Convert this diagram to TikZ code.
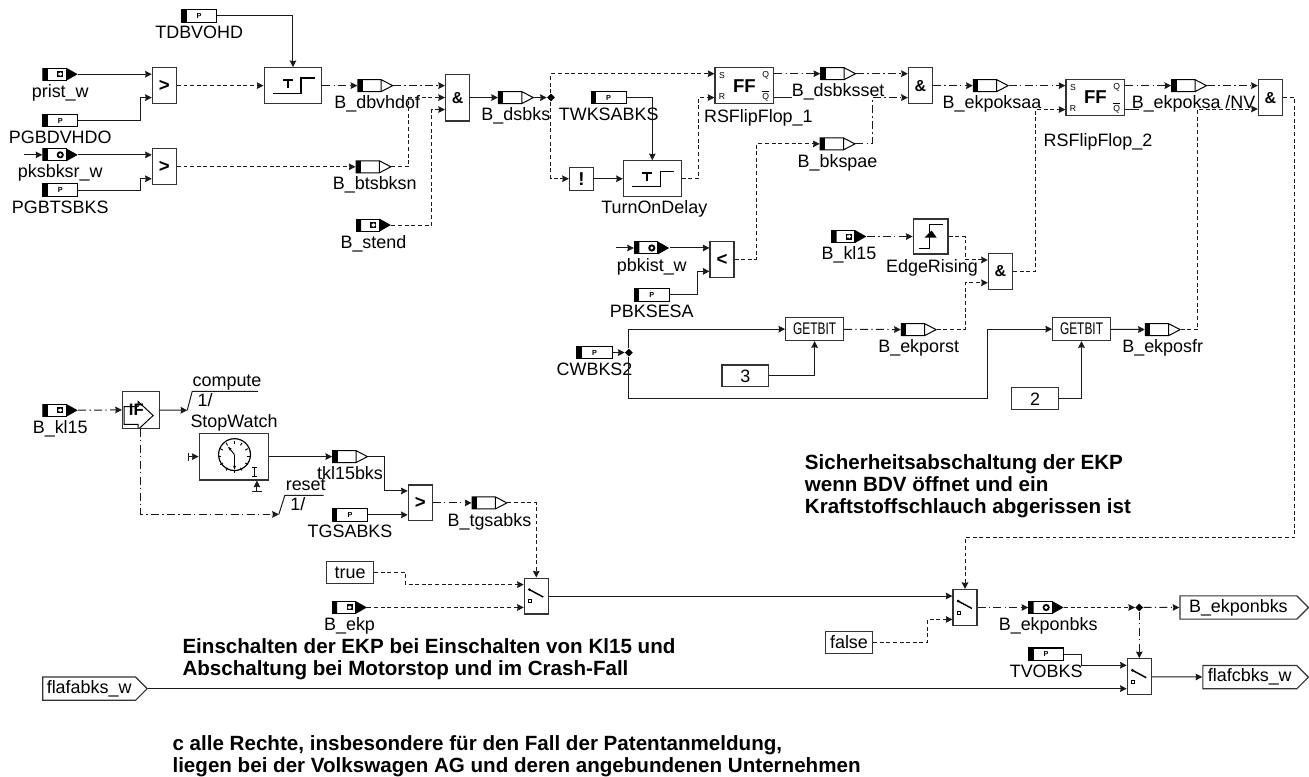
\documentclass[tikz,border=0pt]{standalone}
\usepackage{fontspec}
\usepackage{xcolor}
\usepackage{tikz}
\usetikzlibrary{arrows.meta,positioning,shapes.geometric,shapes.symbols}
\setmainfont{Liberation Sans}
\definecolor{wirecol}{HTML}{1A1A1A}
\definecolor{boxline}{HTML}{333333}

\begin{document}
\begin{tikzpicture}[
  x=0.75pt, y=-0.75pt,
  wire/.style={-{Stealth[length=5pt,width=5pt,inset=0.5pt]}, line width=0.75pt, wirecol},
  dwire/.style={wire, dash pattern=on 3pt off 2pt},
  dotw/.style={wire, dash pattern=on 6pt off 2.5pt on 1pt off 2.5pt},
  stub/.style={line width=0.75pt, wirecol},
  lbl/.style={inner sep=0pt, font=\fontsize{13.5}{13.5}\selectfont, text height=9.7pt, text depth=2.9pt},
  note/.style={inner sep=0pt, anchor=north west, align=left, font=\fontsize{15.5}{16.5}\selectfont\bfseries},
  blk/.style={draw=boxline, line width=0.9pt, fill=white, inner sep=0pt, minimum width=18pt, minimum height=27pt, font=\fontsize{14}{14}\selectfont\bfseries},
  andbox/.style={blk, font=\fontsize{12}{12}\selectfont\bfseries},
  andlong/.style={andbox, minimum height=35.25pt},
  constbox/.style={draw=boxline, line width=0.9pt, fill=white, inner sep=0pt, minimum width=35.25pt, minimum height=16.5pt, font=\fontsize{13.5}{13.5}\selectfont},
  bitbox/.style={draw=boxline, line width=0.9pt, fill=white, inner sep=0pt, minimum width=43.5pt, minimum height=17.25pt, font=\fontsize{11.5}{11.5}\selectfont},
  ffbox/.style={draw=boxline, line width=0.9pt, fill=white, inner sep=0pt, minimum width=44.25pt, minimum height=27pt, font=\fontsize{14}{14}\selectfont\bfseries},
  portlbl/.style={inner sep=0pt, font=\fontsize{6.5}{6.5}\selectfont},
  junc/.style={diamond, fill=black, inner sep=0pt, minimum size=6pt},
  portbox/.style={signal, signal to=east, signal pointer angle=90, draw=boxline, line width=0.9pt, fill=white, inner sep=0pt, minimum height=17.5pt, font=\fontsize{13.5}{13.5}\selectfont},
  tagbase/.style={inner sep=0pt, outer sep=0pt, minimum width=27pt, minimum height=10.5pt, fill=white},
  parmtag/.style={draw=black, line width=0.8pt, fill=white, inner sep=0pt, outer sep=0pt, minimum width=26.5pt, minimum height=9.5pt, font=\fontsize{5.5}{5.5}\selectfont\bfseries, path picture={
    \fill[black] (path picture bounding box.north west) -- ([xshift=3.75pt]path picture bounding box.north west) -- ([xshift=3.75pt]path picture bounding box.south west) -- (path picture bounding box.south west) -- cycle;}},
  sigout/.style={tagbase, path picture={
    \begin{scope}[shift={(path picture bounding box.center)}]
      \draw[black, line width=0.75pt] (-17.5,-6) -- (6,-6) -- (17.5,0) -- (6,6) -- (-17.5,6) -- cycle (6,-6) -- (6,6);
      \fill[black] (-17.5,-6) -- (-12.5,-6) -- (-12.5,6) -- (-17.5,6) -- cycle;
    \end{scope}}},
  sigsq/.style={tagbase, path picture={
    \begin{scope}[shift={(path picture bounding box.center)}]
      \draw[black, line width=0.75pt] (-17.5,-6) -- (6,-6) -- (6,6) -- (-17.5,6) -- cycle;
      \fill[black] (-17.5,-6) -- (-12.5,-6) -- (-12.5,6) -- (-17.5,6) -- cycle (6,-6.5) -- (17.5,0) -- (6,6.5) -- cycle;
      \fill[black] (-3,-3) -- (3,-3) -- (3,3) -- (-3,3) -- cycle;
      \fill[white] (-1.8,-1.2) -- (0,-1.2) -- (0,-2.2) -- (2.2,0) -- (0,2.2) -- (0,1.2) -- (-1.8,1.2) -- cycle;
    \end{scope}}},
  sigring/.style={tagbase, path picture={
    \begin{scope}[shift={(path picture bounding box.center)}]
      \draw[black, line width=0.75pt] (-17.5,-6) -- (6,-6) -- (6,6) -- (-17.5,6) -- cycle;
      \fill[black] (-17.5,-6) -- (-12.5,-6) -- (-12.5,6) -- (-17.5,6) -- cycle (6,-6.5) -- (17.5,0) -- (6,6.5) -- cycle;
      \fill[black] (0,0) circle (3.6);
      \fill[white] (0,0) circle (1.7);
    \end{scope}}},
  delaybox/.style={blk, minimum width=43.5pt, path picture={
    \begin{scope}[shift={(path picture bounding box.center)}]
      \draw[black, line width=1.1pt] (-20,8) -- (8,8) -- (8,-7.5) -- (22,-7.5);
      \draw[black, line width=1.3pt] (-10,-6) -- (0,-6) (-5,-6) -- (-5,2);
    \end{scope}}},
  switchbox/.style={blk, path picture={
    \begin{scope}[shift={(path picture bounding box.center)}]
      \draw[black, line width=1.1pt] (-7,-6.5) -- (7,1);
      \fill[black] (-7,-6.5) circle (1.5);
      \draw[black, line width=0.6pt] (-7.5,3.5) -- (-4.5,3.5) -- (-4.5,6.5) -- (-7.5,6.5) -- cycle;
    \end{scope}}},
  edgebox/.style={blk, minimum width=26.25pt, minimum height=26.25pt, path picture={
    \begin{scope}[shift={(path picture bounding box.center)}]
      \draw[black, line width=1.1pt] (-12,12) -- (-1,12) -- (-1,-12) -- (12,-12);
      \fill[black] (-6,1) -- (1,-6) -- (6,1) -- cycle;
    \end{scope}}},
  ifbox/.style={blk, minimum width=27.75pt, minimum height=27.75pt, font=\fontsize{12.5}{12.5}\selectfont\bfseries, path picture={
    \begin{scope}[shift={(path picture bounding box.center)}]
      \draw[black, line width=0.75pt] (-14,-9) -- (0,-9) -- (0,-14) -- (15,0) -- (0,14) -- (0,9) -- (-14,9) -- cycle;
    \end{scope}}},
  watchbox/.style={blk, minimum width=52.5pt, minimum height=35.25pt, path picture={
    \begin{scope}[shift={(path picture bounding box.center)}]
      \draw[black, line width=0.9pt] (0.5,-2) circle (16);
      \foreach \a in {0,30,...,330} \draw[black, line width=0.7pt, shift={(0.5,-2)}] (\a:13) -- (\a:16);
      \draw[black, line width=0.7pt, -{Stealth[length=3pt]}] (0.5,-2) -- (-6,-10);
      \draw[black, line width=0.7pt, -{Stealth[length=3pt]}] (0.5,-2) -- (0.5,13);
      \draw[black, line width=0.7pt] (20.7,11) -- (20.7,20) (18.5,11) -- (23,11) (18.5,20) -- (23,20);
    \end{scope}}}
]
  \node[parmtag] (tdbvohd) at (200,16) {P};
  \node[lbl, below=2.6pt of tdbvohd] (tdbvohdl) {TDBVOHD};

  \node[sigsq] (prist) at (60.5,74.5) {};
  \node[lbl, below=2.25pt of prist] (pristl) {prist\_w};
  \node[parmtag] (pgbdvhdo) at (60.5,121) {P};
  \node[lbl, below=2.6pt of pgbdvhdo] (pgbdvhdol) {PGBDVHDO};
  \node[sigring] (pksbksr) at (60.5,155.5) {};
  \node[lbl, below=2.25pt of pksbksr] (pksbksrl) {pksbksr\_w};
  \node[parmtag] (pgbtsbks) at (60.5,191) {P};
  \node[lbl, below=2.6pt of pgbtsbks] (pgbtsbksl) {PGBTSBKS};
  \coordinate[left=13.5pt of pksbksr] (pksin);

  \node[blk] (cmpa) at (165,86) {>};
  \node[blk] (cmpb) at (165,167.5) {>};
  \node[delaybox, right=65.25pt of cmpa] (tona) {};
  \node[sigout, right=26.25pt of tona] (dbvhdof) {};
  \node[lbl, below=2.25pt of dbvhdof, xshift=1.5pt] (dbvhdofl) {B\_dbvhdof};
  \node[sigout] (btsbksn) at (375,167.5) {};
  \node[lbl, below=2.25pt of btsbksn, xshift=1pt] (btsbksnl) {B\_btsbksn};
  \node[sigsq] (stend) at (375,226) {};
  \node[lbl, below=2.25pt of stend] (stendl) {B\_stend};

  \node[andlong, right=39pt of dbvhdof, yshift=-9pt] (anda) {\&};
  \node[sigout, right=21pt of anda] (dsbks) {};
  \node[lbl, below=2.25pt of dsbks] (dsbksl) {B\_dsbks};
  \node[junc, right=9.75pt of dsbks] (junca) {};
  \node[parmtag, right=27pt of junca] (twksabks) {P};
  \node[lbl, below=2.6pt of twksabks] (twksabksl) {TWKSABKS};
  \node[delaybox] (tonb) at (655,179.5) {};
  \node[lbl, below=2.25pt of tonb, xshift=1.5pt] (tonbl) {TurnOnDelay};
  \node[blk, minimum height=17.5pt, left=21.75pt of tonb] (nota) {!};

  \node[ffbox] (ffa) at (747.5,86) {FF};
  \node[portlbl] (ffas) at ([shift={(-22.5,-10.5)}]ffa.center) {S};
  \node[portlbl] (ffar) at ([shift={(-22.5,11)}]ffa.center) {R};
  \node[portlbl] (ffaq) at ([shift={(21.5,-10.5)}]ffa.center) {Q};
  \node[portlbl] (ffan) at ([shift={(21.5,10)}]ffa.center) {$\overline{\mbox{Q}}$};
  \node[lbl, below=5pt of ffa, xshift=10.5pt, yshift=1pt] (ffal) {RSFlipFlop\_1};
  \coordinate (qbara) at ([shift={(18,12)}]ffa.east);
  \node[sigout, right=34.5pt of ffa, yshift=9pt] (dsbksset) {};
  \node[lbl, below=2.25pt of dsbksset] (dsbkssetl) {B\_dsbksset};
  \node[sigout] (bkspae) at (841,144.5) {};
  \node[lbl, below=2.25pt of bkspae] (bkspael) {B\_bkspae};
  \node[andbox, right=39pt of dsbksset, yshift=-9pt] (andb) {\&};

  \node[sigout, right=30pt of andb] (ekpoksaa) {};
  \node[lbl, below=2.25pt of ekpoksaa, xshift=1pt] (ekpoksaal) {B\_ekpoksaa};
  \node[ffbox, right=42.75pt of ekpoksaa, yshift=-9pt] (ffb) {FF};
  \node[portlbl] (ffbs) at ([shift={(-22.5,-10.5)}]ffb.center) {S};
  \node[portlbl] (ffbr) at ([shift={(-22.5,11)}]ffb.center) {R};
  \node[portlbl] (ffbq) at ([shift={(21.5,-10.5)}]ffb.center) {Q};
  \node[portlbl] (ffbn) at ([shift={(21.5,10)}]ffb.center) {$\overline{\mbox{Q}}$};
  \node[lbl, below=12.75pt of ffb, xshift=2pt] (ffbl) {RSFlipFlop\_2};
  \coordinate (qbarb) at ([shift={(14,12)}]ffb.east);
  \node[sigout, right=34.5pt of ffb, yshift=9pt] (ekpoksa) {};
  \node[lbl, below=2.25pt of ekpoksa, xshift=3.4pt] (ekpoksal) {B\_ekpoksa /NV};
  \node[andbox, right=38.25pt of ekpoksa, yshift=-9pt] (andc) {\&};

  \node[sigring] (pbkist) at (654.5,249) {};
  \node[lbl, below=2.25pt of pbkist] (pbkistl) {pbkist\_w};
  \coordinate[left=13.5pt of pbkist] (pbkin);
  \node[parmtag] (pbksesa) at (654.5,296) {P};
  \node[lbl, below=2.6pt of pbksesa] (pbksesal) {PBKSESA};
  \node[blk] (cmpc) at (725,260.5) {<};

  \node[sigsq] (kl15a) at (852.5,237.5) {};
  \node[lbl, below=2.25pt of kl15a] (kl15al) {B\_kl15};
  \node[edgebox] (edge) at (934.5,237.5) {};
  \node[lbl, below=3.75pt of edge, xshift=1pt] (edgel) {EdgeRising};
  \node[andbox] (andd) at (1004.5,272.5) {\&};

  \node[parmtag] (cwbks) at (597,354) {P};
  \node[lbl, below=2.6pt of cwbks] (cwbksl) {CWBKS2};
  \node[junc] (juncb) at (631.5,354) {};
  \node[bitbox] (getbita) at (818,330.5) {\scalebox{0.78}[1.1]{GETBIT}};
  \node[sigout] (ekporst) at (922.5,331) {};
  \node[lbl, below=2.25pt of ekporst] (ekporstl) {B\_ekporst};
  \node[constbox] (constthree) at (748.5,377.5) {3};
  \node[bitbox] (getbitb) at (1086,330.5) {\scalebox{0.78}[1.1]{GETBIT}};
  \node[sigout] (ekposfr) at (1167.5,331) {};
  \node[lbl, below=2.25pt of ekposfr] (ekposfrl) {B\_ekposfr};
  \node[constbox] (consttwo) at (1039.5,400.5) {2};

  \node[sigsq] (kl15b) at (60.5,412) {};
  \node[lbl, below=2.25pt of kl15b] (kl15bl) {B\_kl15};
  \node[ifbox] (ifk) at (141.5,411.5) {\kern-7pt IF};
  \coordinate (comptrig) at (188,412);
  \node[lbl] (computel) at (228,384) {compute};
  \node[lbl] (computen) at (206,404) {1/};
  \node[watchbox] (stopw) at (235,458.5) {};
  \node[lbl, above=0.75pt of stopw] (stopwl) {StopWatch};
  \coordinate (watchin) at (189,458.5);
  \coordinate (watchrst) at (258,494);
  \node[sigout] (tkl15bks) at (351.5,458.5) {};
  \node[lbl, below=2.25pt of tkl15bks] (tkl15bksl) {tkl15bks};
  \coordinate (rsttrig) at (280,516.5);
  \node[lbl] (resetl) at (307,488) {reset};
  \node[lbl] (resetn) at (299,508) {1/};
  \node[parmtag] (tgsabks) at (351.5,517) {P};
  \node[lbl, below=2.6pt of tgsabks] (tgsabksl) {TGSABKS};
  \node[blk] (cmpd) at (422,505) {>};
  \node[sigout] (btgsabks) at (491.5,505) {};
  \node[lbl, below=2.25pt of btgsabks] (btgsabksl) {B\_tgsabks};

  \node[constbox] (consttrue) at (351.5,575) {true};
  \node[sigsq] (bekp) at (351,610) {};
  \node[lbl, below=2.25pt of bekp] (bekpl) {B\_ekp};
  \node[switchbox] (swa) at (538.5,598.5) {};
  \node[switchbox] (swb) at (969,610) {};
  \node[constbox] (constfalse) at (852.5,645) {false};
  \node[sigring] (ekponbks) at (1050.5,610) {};
  \node[lbl, below=2.25pt of ekponbks, xshift=1.5pt] (ekponbksl) {B\_ekponbks};
  \node[junc] (juncc) at (1144,610) {};
  \node[portbox, minimum width=96.75pt] (outekp) at (1243.5,610) {B\_ekponbks};
  \node[parmtag] (tvobks) at (1050.5,657) {P};
  \node[lbl, below=2.6pt of tvobks] (tvobksl) {TVOBKS};
  \node[switchbox] (swc) at (1144,679.5) {};
  \node[portbox, minimum width=79.5pt] (outflaf) at (1255,680) {flafcbks\_w};
  \node[portbox, minimum width=78.75pt] (inflaf) at (89.5,691.5) {flafabks\_w};

  \node[note] (notesafe) at (808,456) {Sicherheitsabschaltung der EKP\\wenn BDV öffnet und ein\\Kraftstoffschlauch abgerissen ist};
  \node[note] (noteon) at (183,641) {Einschalten der EKP bei Einschalten von Kl15 und\\Abschaltung bei Motorstop und im Crash-Fall};
  \node[note] (noterights) at (173,738) {c alle Rechte, insbesondere für den Fall der Patentanmeldung,\\liegen bei der Volkswagen AG und deren angebundenen Unternehmen};

  \draw[wire] (pksin) -- (pksbksr.west);
  \draw[wire] (prist.east) -- (cmpa.west |- prist.east);
  \draw[wire] (pgbdvhdo.east) -- ++(62.5,0) |- ([yshift=-9pt]cmpa.west);
  \draw[wire] (pksbksr.east) -- (cmpb.west |- pksbksr.east);
  \draw[wire] (pgbtsbks.east) -- ++(62.5,0) |- ([yshift=-9pt]cmpb.west);
  \draw[dwire] (cmpa) -- (tona);
  \draw[dwire] (cmpb) -- (btsbksn);
  \draw[wire] (tdbvohd.east) -| (tona.north);
  \draw[dotw] (tona) -- (dbvhdof);
  \draw[dotw] (dbvhdof.east) -- (anda.west |- dbvhdof.east);
  \draw[dwire] (btsbksn.east) -- ++(17.5,0) |- (anda.west);
  \draw[dwire] (stend.east) -- ++(40.5,0) |- ([yshift=-9pt]anda.west);

  \draw[wire] (anda) -- (dsbks);
  \draw[wire] (dsbks.east) -- (junca);
  \draw[dwire] (junca) |- ([yshift=9pt]ffa.west);
  \draw[dwire] (junca) |- (nota);
  \draw[wire] (nota) -- (tonb);
  \draw[wire] (twksabks.east) -| (tonb.north);
  \draw[dwire] (tonb.east) -- ++(17,0) |- ([yshift=-9pt]ffa.west);
  \draw[dotw] ([yshift=9pt]ffa.east) -- (dsbksset.west);
  \draw[stub] (ffa.east |- qbara) -- (qbara);
  \draw[dotw] (dsbksset.east) -- (andb.west |- dsbksset.east);
  \draw[dotw] (bkspae.east) -- ++(17,0) |- ([yshift=-9pt]andb.west);
  \draw[dwire] (cmpc.east) -- ++(22,0) |- (bkspae.west);
  \draw[wire] (pbkin) -- (pbkist.west);
  \draw[wire] (pbkist.east) -- (cmpc.west |- pbkist.east);
  \draw[wire] (pbksesa.east) -- ++(28.5,0) |- ([yshift=-9pt]cmpc.west);

  \draw[dotw] (andb) -- (ekpoksaa);
  \draw[dotw] (ekpoksaa.east) -- (ffb.west |- ekpoksaa.east);
  \draw[dotw] ([yshift=9pt]ffb.east) -- (ekpoksa.west);
  \draw[stub] (ffb.east |- qbarb) -- (qbarb);
  \draw[dotw] (ekpoksa.east) -- (andc.west |- ekpoksa.east);
  \draw[dwire] (andd.east) -- ++(22.5,0) |- ([yshift=-9pt]ffb.west);
  \draw[dotw] (kl15a) -- (edge);
  \draw[dwire] (edge.east) -- ++(17,0) |- ([yshift=8.6pt]andd.west);

  \draw[wire] (cwbks) -- (juncb);
  \draw[wire] (juncb) |- (getbita.west);
  \draw[wire] (juncb) -- ++(0,46) -- ++(360.5,0) |- (getbitb.west);
  \draw[wire] (constthree) -| (getbita.south);
  \draw[wire] (consttwo) -| (getbitb.south);
  \draw[dotw] (getbita) -- (ekporst);
  \draw[wire] (getbitb) -- (ekposfr);
  \draw[dwire] (ekporst.east) -- ++(28.5,0) |- ([yshift=-8.6pt]andd.west);
  \draw[dwire] (ekposfr.east) -- ++(17,0) |- ([yshift=-8.6pt]andc.west);
  \draw[dwire] (andc.east) -- ++(12,0) -- ++(0,442) -| (swb.north);

  \draw[dotw] (kl15b) -- (ifk);
  \draw[wire] (ifk) -- (comptrig);
  \draw[stub] (comptrig) -- ++(5,-19) -- ++(66,0);
  \draw[dotw] (ifk.south) |- (rsttrig);
  \draw[stub] (rsttrig) -- ++(6,-19) -- ++(39,0);
  \draw[wire, {Bar[width=6pt]}-{Stealth[length=5pt,width=5pt,inset=0.5pt]}] (watchin) -- (stopw.west);
  \draw[wire, {Bar[width=8pt]}-{Stealth[length=5pt,width=5pt,inset=0.5pt]}] (watchrst) -- (watchrst |- stopw.south);
  \draw[wire] (stopw) -- (tkl15bks);
  \draw[wire] (tkl15bks.east) -- ++(17,0) |- ([yshift=9pt]cmpd.west);
  \draw[wire] (tgsabks.east) -- (cmpd.west |- tgsabks.east);
  \draw[dotw] (cmpd) -- (btgsabks);
  \draw[dwire] (btgsabks.east) -| (swa.north);

  \draw[dwire] (consttrue.east) -- ++(32,0) |- ([yshift=8.6pt]swa.west);
  \draw[dwire] (bekp.east) -- (swa.west |- bekp.east);
  \draw[wire] (swa.east) -- (swb.west |- swa.east);
  \draw[dwire] (constfalse.east) -- ++(55,0) |- ([yshift=-9pt]swb.west);
  \draw[dotw] (swb) -- (ekponbks);
  \draw[dwire] (ekponbks.east) -- (juncc);
  \draw[dotw] (juncc) -- (outekp);
  \draw[dotw] (juncc) -- (swc.north);
  \draw[wire] (tvobks.east) -- ++(18,0) |- ([yshift=8.6pt]swc.west);
  \draw[wire] (inflaf.east) -- (swc.west |- inflaf.east);
  \draw[wire] (swc) -- (outflaf);

  \useasboundingbox (0,0) rectangle (1309,774);
\end{tikzpicture}
\end{document}
